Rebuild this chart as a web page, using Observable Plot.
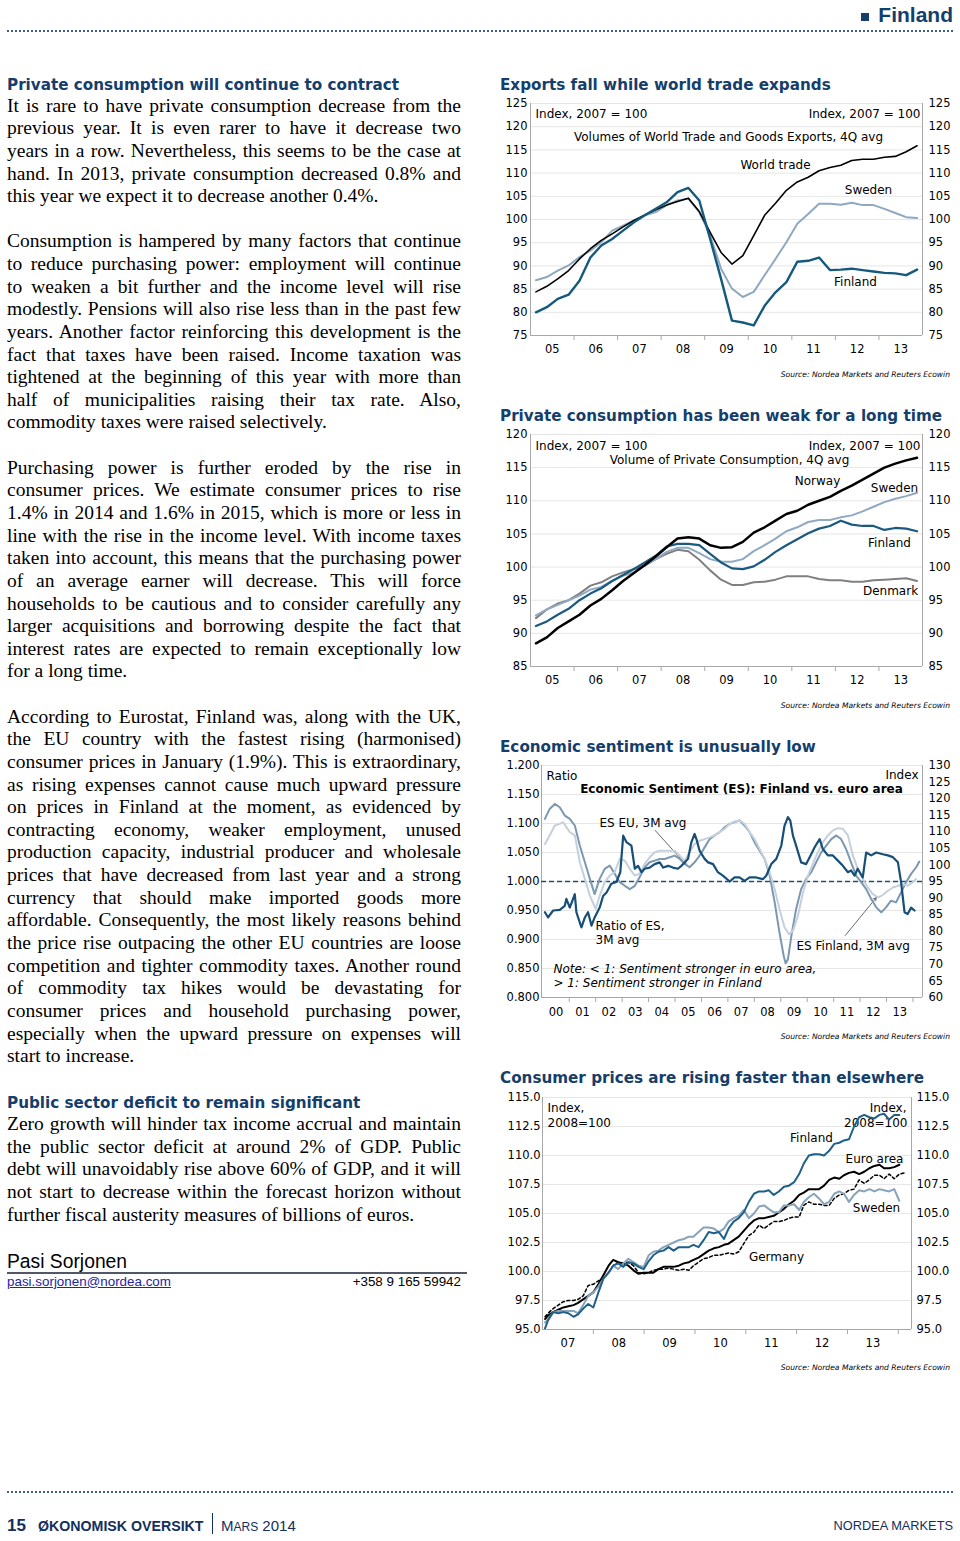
<!DOCTYPE html>
<html><head><meta charset="utf-8"><title>Finland</title>
<script src="https://cdn.jsdelivr.net/npm/d3@7"></script>
<script src="https://cdn.jsdelivr.net/npm/@observablehq/plot@0.6"></script>
<style>
html,body{margin:0;padding:0;background:#fff;}
#page{position:relative;width:960px;height:1541px;overflow:hidden;background:#fff;}
.abs{position:absolute;line-height:1;white-space:nowrap;margin:0;}
.chart{position:absolute;left:498px;}
.chart svg{overflow:visible;}
</style></head>
<body><div id="page"></div>
<script>
// ================= DATA =================
// Chart 1 & 2: quarterly, 2005Q1 - 2013Q4 (4Q avg)
const quarters = d3.range(36).map(i => 2005 + i / 4 + 0.125);
const exportsWorldTrade = [84.4,85.6,87.2,89.0,91.5,93.7,95.5,96.9,98.4,99.8,101.0,102.1,103.1,103.9,104.6,101.7,97.2,92.9,90.4,92.2,96.5,100.9,103.5,106.3,108.1,109.1,110.5,111.2,111.7,112.7,113.0,113.0,113.4,113.6,114.6,115.9];
const exportsSweden = [86.9,87.6,89.0,90.1,91.9,93.3,95.1,97.6,98.7,99.8,100.9,101.6,103.1,104.1,104.5,101.6,96.6,89.4,85.1,83.3,84.4,88.0,91.5,95.1,99.1,101.2,103.4,103.4,103.2,103.6,103.1,103.1,102.3,101.4,100.5,100.3];
const exportsFinland = [80.0,81.1,82.9,83.8,86.8,91.8,94.4,95.8,97.6,99.4,100.9,102.3,103.7,105.9,106.8,104.1,95.8,87.2,78.2,77.8,77.2,81.4,84.3,86.5,90.9,91.1,91.8,89.1,89.2,89.4,89.1,88.8,88.5,88.4,88.0,89.2];

const consNorway = [88.5,89.4,90.8,91.8,92.8,94.2,95.2,96.5,97.9,99.1,100.3,101.6,103.0,104.3,104.5,104.3,103.3,102.9,103.0,103.8,105.2,106.0,107.0,108.0,108.5,109.4,110.0,110.6,111.5,112.3,113.2,114.1,115.0,115.6,116.1,116.5];
const consSweden = [92.7,93.6,94.3,95.0,95.7,96.6,97.0,97.9,98.7,99.2,100.2,101.2,102.3,102.9,102.9,102.1,101.2,100.8,100.8,101.2,102.4,103.3,104.3,105.4,106.0,106.8,107.1,107.1,107.5,107.8,108.4,109.1,109.8,110.3,110.7,111.2];
const consFinland = [91.1,91.8,92.8,93.7,95.0,96.0,96.8,97.9,98.8,99.7,100.7,101.7,103.1,103.5,103.5,103.3,102.0,100.7,99.8,99.7,100.1,101.1,102.3,103.3,104.2,105.1,105.8,106.2,107.0,106.4,106.2,106.2,105.6,105.9,105.8,105.4];
const consDenmark = [92.3,93.6,94.5,95.0,96.0,97.2,97.7,98.6,99.2,99.7,100.2,101.2,102.0,102.6,102.4,101.1,99.5,98.1,97.3,97.3,97.7,97.8,98.1,98.6,98.6,98.6,98.2,98.0,98.0,97.8,97.8,98.0,98.1,98.2,98.3,97.9];

// Chart 3: [year, value]
const esRatio = [[2000.08,0.947],[2000.20,0.938],[2000.39,0.950],[2000.64,0.951],[2000.83,0.958],[2000.89,0.970],[2001.02,0.955],[2001.21,0.978],[2001.27,0.947],[2001.46,0.921],[2001.59,0.938],[2001.71,0.947],[2001.84,0.924],[2001.96,0.938],[2002.15,0.955],[2002.28,0.975],[2002.41,0.981],[2002.59,0.996],[2002.78,0.999],[2002.93,1.016],[2003.04,1.079],[2003.16,1.068],[2003.35,1.062],[2003.48,1.022],[2003.60,1.027],[2003.73,1.016],[2003.85,1.022],[2004.04,1.024],[2004.23,1.030],[2004.42,1.033],[2004.55,1.024],[2004.74,1.027],[2004.92,1.024],[2005.11,1.022],[2005.24,1.027],[2005.37,1.033],[2005.49,1.039],[2005.62,1.068],[2005.74,1.082],[2005.81,1.073],[2005.93,1.053],[2006.12,1.039],[2006.25,1.033],[2006.44,1.030],[2006.62,1.016],[2006.81,1.010],[2007.07,1.000],[2007.25,1.007],[2007.44,1.007],[2007.63,1.001],[2007.82,1.007],[2008.07,1.007],[2008.32,1.004],[2008.45,1.010],[2008.64,1.030],[2008.83,1.039],[2009.02,1.062],[2009.14,1.096],[2009.27,1.111],[2009.36,1.105],[2009.46,1.079],[2009.58,1.062],[2009.77,1.033],[2009.96,1.030],[2010.15,1.047],[2010.28,1.059],[2010.47,1.073],[2010.59,1.056],[2010.78,1.045],[2010.97,1.045],[2011.16,1.036],[2011.35,1.027],[2011.54,1.016],[2011.66,1.019],[2011.79,1.010],[2011.91,1.022],[2012.10,1.007],[2012.23,1.050],[2012.42,1.045],[2012.61,1.050],[2012.86,1.047],[2013.05,1.045],[2013.24,1.042],[2013.43,1.033],[2013.55,0.999],[2013.68,0.947],[2013.80,0.944],[2013.93,0.955],[2014.06,0.950]];
const esEU = [[2000.08,113.9],[2000.26,116.9],[2000.45,118.4],[2000.64,117.4],[2000.83,114.9],[2001.02,113.9],[2001.21,111.9],[2001.40,105.8],[2001.59,100.8],[2001.78,95.8],[2001.96,91.2],[2002.15,95.8],[2002.34,98.8],[2002.53,99.8],[2002.72,97.3],[2002.91,94.8],[2003.10,93.7],[2003.29,92.7],[2003.48,93.7],[2003.66,96.3],[2003.85,99.3],[2004.04,100.8],[2004.23,101.3],[2004.42,101.8],[2004.61,101.8],[2004.80,102.3],[2004.99,102.8],[2005.18,101.8],[2005.37,100.3],[2005.55,99.3],[2005.74,100.8],[2005.93,102.8],[2006.12,105.3],[2006.31,107.8],[2006.50,108.9],[2006.69,109.9],[2006.88,111.4],[2007.07,112.4],[2007.25,112.9],[2007.44,113.4],[2007.63,111.9],[2007.82,109.9],[2008.01,106.8],[2008.20,104.3],[2008.39,101.8],[2008.58,96.8],[2008.77,88.7],[2008.95,79.6],[2009.11,72.6],[2009.18,70.3],[2009.27,71.5],[2009.40,78.6],[2009.58,86.7],[2009.77,92.7],[2009.96,95.8],[2010.15,97.8],[2010.34,100.8],[2010.53,103.8],[2010.72,105.8],[2010.91,107.8],[2011.10,108.9],[2011.28,107.8],[2011.47,104.8],[2011.66,100.8],[2011.85,96.8],[2012.04,94.8],[2012.23,92.7],[2012.42,89.7],[2012.61,87.2],[2012.80,85.7],[2012.98,87.2],[2013.17,89.2],[2013.36,88.7],[2013.55,91.7],[2013.74,94.8],[2013.93,97.3],[2014.12,99.3],[2014.24,101.0]];
const esFinland = [[2000.08,106.3],[2000.26,108.9],[2000.45,111.9],[2000.64,112.4],[2000.77,112.9],[2000.89,111.4],[2001.02,109.9],[2001.21,108.9],[2001.40,100.8],[2001.59,95.8],[2001.78,90.7],[2002.00,86.7],[2002.15,90.7],[2002.34,94.8],[2002.53,96.8],[2002.72,97.8],[2002.91,101.8],[2003.10,101.3],[2003.29,98.8],[2003.48,96.8],[2003.66,97.3],[2003.85,100.3],[2004.04,102.3],[2004.23,103.8],[2004.42,104.3],[2004.61,104.3],[2004.80,104.3],[2004.99,104.3],[2005.18,102.8],[2005.37,101.3],[2005.55,103.8],[2005.74,106.3],[2005.93,107.3],[2006.12,107.8],[2006.31,108.3],[2006.50,108.9],[2006.69,109.9],[2006.88,110.9],[2007.07,112.4],[2007.25,113.1],[2007.44,113.4],[2007.63,112.4],[2007.82,109.9],[2008.01,107.8],[2008.20,104.8],[2008.39,101.8],[2008.58,97.8],[2008.77,92.7],[2008.95,86.7],[2009.14,81.2],[2009.31,79.1],[2009.46,80.1],[2009.65,84.7],[2009.84,91.7],[2010.03,96.8],[2010.21,100.3],[2010.40,103.8],[2010.59,106.8],[2010.78,108.9],[2010.97,110.4],[2011.16,111.1],[2011.35,110.9],[2011.54,108.9],[2011.73,102.8],[2011.91,98.8],[2012.10,95.8],[2012.29,93.2],[2012.48,91.2],[2012.68,90.2],[2012.86,90.9],[2013.05,92.2],[2013.24,93.2],[2013.43,93.7],[2013.62,94.2],[2013.80,93.7],[2013.99,94.8],[2014.12,95.8]];

// Chart 4: consumer prices, 2008=100
const cpiTime = [2007.05,2007.11,2007.21,2007.31,2007.41,2007.51,2007.61,2007.70,2007.80,2007.90,2008.00,2008.10,2008.20,2008.30,2008.39,2008.49,2008.59,2008.69,2008.79,2008.89,2008.99,2009.09,2009.18,2009.28,2009.38,2009.48,2009.58,2009.68,2009.78,2009.88,2009.97,2010.07,2010.17,2010.27,2010.37,2010.47,2010.57,2010.66,2010.76,2010.86,2010.96,2011.06,2011.16,2011.26,2011.36,2011.45,2011.55,2011.65,2011.75,2011.85,2011.95,2012.05,2012.14,2012.24,2012.34,2012.44,2012.54,2012.64,2012.74,2012.84,2012.93,2013.03,2013.13,2013.23,2013.33,2013.43,2013.53,2013.63,2013.72,2013.82,2013.92,2014.02,2014.12];
const cpiFinland = [95.1,95.8,96.5,96.4,96.5,96.4,96.1,96.3,96.8,97.2,96.9,98.2,99.4,99.9,100.5,100.7,100.4,100.8,100.7,100.4,100.2,100.9,101.4,101.7,101.8,102.1,101.8,102.1,102.1,102.1,102.3,102.1,102.7,103.4,103.3,103.4,102.8,103.7,104.3,104.6,105.1,106.0,106.7,106.9,106.9,107.0,106.6,106.9,107.3,107.4,107.7,108.4,109.3,110.0,110.1,110.1,110.0,110.4,111.0,111.1,111.3,111.4,112.5,113.3,113.5,113.3,113.2,113.5,113.6,113.1,113.5,113.5];
const cpiSweden = [95.6,95.9,96.5,96.6,96.6,96.6,96.6,96.4,97.1,97.9,98.2,98.7,99.4,99.9,100.5,100.2,100.7,101.1,100.8,100.5,100.4,101.4,101.7,101.8,102.1,102.3,102.5,102.7,102.8,103.0,103.0,103.4,103.8,103.8,103.7,103.4,103.7,104.3,104.6,104.8,105.3,104.6,105.0,105.6,105.7,105.4,105.1,105.1,105.7,105.7,105.8,105.3,106.0,106.4,106.7,106.3,105.8,106.0,106.7,106.9,106.7,106.0,106.6,107.0,106.9,107.1,106.9,107.1,107.0,106.9,107.1,106.1];
const cpiEuroArea = [95.9,96.2,96.5,96.7,96.9,97.0,97.1,97.3,97.6,97.9,98.2,98.9,99.7,100.5,101.0,100.8,100.7,100.5,100.1,99.8,99.9,99.9,99.9,100.2,100.4,100.4,100.4,100.5,100.7,100.8,101.0,101.2,101.5,101.8,102.0,102.1,102.3,102.4,102.7,103.0,103.5,104.0,104.4,104.6,104.6,104.7,104.8,105.1,105.4,105.8,106.1,106.6,106.8,107.1,107.1,107.1,107.4,107.9,108.1,108.0,108.3,108.5,108.6,108.4,108.6,108.9,109.1,109.2,108.9,108.9,109.0,109.2];
const cpiGermany = [96.1,96.4,96.8,97.1,97.4,97.5,97.5,97.6,97.9,98.8,98.9,99.2,99.4,99.9,100.5,100.8,100.7,100.8,100.5,99.9,99.8,99.9,100.1,100.2,100.2,100.3,100.2,100.1,100.2,100.1,100.5,100.8,101.1,101.2,101.4,101.4,101.5,101.6,101.5,101.7,102.4,103.1,103.4,104.0,103.7,104.0,104.3,104.3,104.4,104.6,104.7,104.7,105.7,106.0,105.8,105.8,105.7,105.7,106.3,106.6,106.7,107.0,107.1,107.9,107.6,107.9,108.3,108.3,108.0,108.4,108.0,108.4,108.5];

// Tick values
const ticks1 = [75,80,85,90,95,100,105,110,115,120,125];
const ticks2 = [85,90,95,100,105,110,115,120];
const ticks3L = [0.8,0.85,0.9,0.95,1.0,1.05,1.1,1.15,1.2];
const ticks3R = [60,65,70,75,80,85,90,95,100,105,110,115,120,125,130];
const ticks4 = [95,97.5,100,102.5,105,107.5,110,112.5,115];
const years12Bounds = [2006,2007,2008,2009,2010,2011,2012,2013];
const years12Mids = [2005.5,2006.5,2007.5,2008.5,2009.5,2010.5,2011.5,2012.5,2013.5];
const years3Bounds = [2001,2002,2003,2004,2005,2006,2007,2008,2009,2010,2011,2012,2013,2014];
const years3Mids = [2000.5,2001.5,2002.5,2003.5,2004.5,2005.5,2006.5,2007.5,2008.5,2009.5,2010.5,2011.5,2012.5,2013.5];
const years4Bounds = [2008,2009,2010,2011,2012,2013,2014];
const years4Mids = [2007.5,2008.5,2009.5,2010.5,2011.5,2012.5,2013.5];

// ================= PAGE TEXT =================
const page = document.getElementById("page");
const NAVY = "#153e6b";
const SERIF = '"Liberation Serif","Times New Roman",serif';
const DJ = '"DejaVu Sans",Verdana,sans-serif';
const LS = '"Liberation Sans",Arial,sans-serif';
const K = {serif: 0.8375, dj: 0.846, ls: 0.8465};

function put(html, o) {
  const d = document.createElement("div");
  d.className = "abs";
  d.innerHTML = html;
  d.style.fontSize = o.size + "px";
  d.style.fontFamily = o.fam;
  d.style.top = (o.base - o.k * o.size) + "px";
  if (o.right != null) d.style.right = (960 - o.right) + "px"; else d.style.left = o.x + "px";
  if (o.css) d.style.cssText += o.css;
  page.appendChild(d);
  return d;
}

// header
put('<span style="display:inline-block;width:8px;height:8px;background:' + NAVY + ';margin-right:9px;vertical-align:1px"></span>Finland',
  {right: 953, base: 22, size: 21, fam: LS, k: K.ls, css: "font-weight:bold;color:" + NAVY});
const dots = (y) => { const d = document.createElement("div"); d.style.cssText = "position:absolute;left:7px;width:946px;height:0;border-top:2px dotted #3d5f8c;top:" + y + "px"; page.appendChild(d); };
dots(30); dots(1491);

// headings
const headCss = "font-weight:bold;color:" + NAVY;
put("Private consumption will continue to contract", {x: 7, base: 91, size: 15.2, fam: DJ, k: K.dj, css: headCss});

const BASE0 = 112, LH = 22.63;
function para(lines, k0) {
  lines.forEach((ln, i) => {
    const d = put("<span>" + ln + "</span>", {x: 7, base: BASE0 + LH * (k0 + i), size: 19.5, fam: SERIF, k: K.serif, css: "color:#000"});
    if (i < lines.length - 1) {
      const w = d.firstChild.getBoundingClientRect().width;
      const n = (ln.match(/ /g) || []).length;
      if (n) d.style.wordSpacing = ((454 - w) / n) + "px";
    }
  });
}
para([
  "It is rare to have private consumption decrease from the",
  "previous year. It is even rarer to have it decrease two",
  "years in a row. Nevertheless, this seems to be the case at",
  "hand. In 2013, private consumption decreased 0.8% and",
  "this year we expect it to decrease another 0.4%."], 0);
para([
  "Consumption is hampered by many factors that continue",
  "to reduce purchasing power: employment will continue",
  "to weaken a bit further and the income level will rise",
  "modestly. Pensions will also rise less than in the past few",
  "years. Another factor reinforcing this development is the",
  "fact that taxes have been raised. Income taxation was",
  "tightened at the beginning of this year with more than",
  "half of municipalities raising their tax rate. Also,",
  "commodity taxes were raised selectively."], 6);
para([
  "Purchasing power is further eroded by the rise in",
  "consumer prices. We estimate consumer prices to rise",
  "1.4% in 2014 and 1.6% in 2015, which is more or less in",
  "line with the rise in the income level. With income taxes",
  "taken into account, this means that the purchasing power",
  "of an average earner will decrease. This will force",
  "households to be cautious and to consider carefully any",
  "larger acquisitions and borrowing despite the fact that",
  "interest rates are expected to remain exceptionally low",
  "for a long time."], 16);
para([
  "According to Eurostat, Finland was, along with the UK,",
  "the EU country with the fastest rising (harmonised)",
  "consumer prices in January (1.9%). This is extraordinary,",
  "as rising expenses cannot cause much upward pressure",
  "on prices in Finland at the moment, as evidenced by",
  "contracting economy, weaker employment, unused",
  "production capacity, industrial producer and wholesale",
  "prices that have decreased from last year and a strong",
  "currency that should make imported goods more",
  "affordable. Consequently, the most likely reasons behind",
  "the price rise outpacing the other EU countries are loose",
  "competition and tighter commodity taxes. Another round",
  "of commodity tax hikes would be devastating for",
  "consumer prices and household purchasing power,",
  "especially when the upward pressure on expenses will",
  "start to increase."], 27);
put("Public sector deficit to remain significant", {x: 7, base: BASE0 + LH * 44 + 1, size: 15.2, fam: DJ, k: K.dj, css: headCss});
para([
  "Zero growth will hinder tax income accrual and maintain",
  "the public sector deficit at around 2% of GDP. Public",
  "debt will unavoidably rise above 60% of GDP, and it will",
  "not start to decrease within the forecast horizon without",
  "further fiscal austerity measures of billions of euros."], 45);

// author
put("Pasi Sorjonen", {x: 7, base: 1268, size: 19.3, fam: LS, k: K.ls});
(() => { const d = document.createElement("div"); d.style.cssText = "position:absolute;left:7px;top:1272px;width:460px;height:0;border-top:2px solid #505a66"; page.appendChild(d); })();
put("pasi.sorjonen@nordea.com", {x: 7, base: 1286, size: 13.4, fam: LS, k: K.ls, css: "color:#2323a8;text-decoration:underline"});
put("+358 9 165 59942", {right: 461, base: 1286, size: 13.4, fam: LS, k: K.ls});

// footer
const FOOT = "#12305e";
put("15", {x: 7, base: 1531, size: 17, fam: LS, k: K.ls, css: "font-weight:bold;color:" + FOOT});
put("ØKONOMISK OVERSIKT", {x: 38, base: 1531, size: 14.2, fam: LS, k: K.ls, css: "font-weight:bold;color:" + FOOT});
(() => { const d = document.createElement("div"); d.style.cssText = "position:absolute;left:212px;top:1513px;width:0;height:21px;border-left:1px solid " + FOOT; page.appendChild(d); })();
put('M<span style="font-size:12px">ARS</span> 2014', {x: 221, base: 1531, size: 15, fam: LS, k: K.ls, css: "color:" + FOOT});
put("NORDEA MARKETS", {right: 953, base: 1531, size: 12.8, fam: LS, k: K.ls, css: "color:" + FOOT});

// ================= CHARTS =================
const AX = "#a8a8a8";
const yy = d => String(Math.floor(d) % 100).padStart(2, "0");

function chart(cfg) {
  const {title, titleBase, top, ml, mr, xDomain, yDomain, yTicks, yFmt, lPad, rTicks, rY, rFmt, rDx, bounds, mids, xPad, labels, lines, extra = [], srcBase} = cfg;
  put(title, {x: 500, base: titleBase, size: 15.2, fam: DJ, k: K.dj, css: headCss});
  const ox = 498 + ml, oy = top + 8;
  const labelMarks = labels.map(l => Plot.text([l], {
    frameAnchor: "top-left", lineAnchor: "middle", dx: l.px - ox, dy: l.py - oy, text: d => d.t,
    textAnchor: l.a || "start", fontSize: l.fs || 12, fontWeight: l.fw || "normal",
    fontStyle: l.it ? "italic" : "normal", fill: "#000"
  }));
  const svg = Plot.plot({
    width: 460, height: 270, marginLeft: ml, marginRight: mr, marginTop: 8, marginBottom: 30,
    style: {fontFamily: DJ, fontSize: "11.5px", color: "#000", background: "transparent", overflow: "visible"},
    x: {domain: xDomain, label: null},
    y: {domain: yDomain, label: null},
    marks: [
      Plot.gridY({ticks: yTicks, stroke: "#e6e6e6", strokeOpacity: 1}),
      Plot.ruleX([xDomain[0], xDomain[1]], {stroke: AX}),
      Plot.ruleY([yDomain[0]], {stroke: AX}),
      Plot.axisY({ticks: yTicks, anchor: "left", tickSize: 0, tickPadding: lPad, tickFormat: yFmt, label: null}),
      Plot.text(rTicks, {y: rY, text: rFmt, frameAnchor: "right", dx: rDx, textAnchor: "start"}),
      Plot.axisX({ticks: bounds, tickSize: 5, tickFormat: () => "", stroke: AX, label: null}),
      Plot.axisX({ticks: mids, tickSize: 0, tickPadding: xPad, tickFormat: yy, label: null}),
      ...extra,
      ...labelMarks,
      ...lines
    ]
  });
  const div = document.createElement("div");
  div.className = "chart";
  div.style.top = top + "px";
  div.appendChild(svg);
  page.appendChild(div);
  put("Source: Nordea Markets and Reuters Ecowin", {right: 950, base: srcBase, size: 7.6, fam: DJ, k: K.dj, css: "font-style:italic;color:#000"});
}

const q = arr => quarters.map((t, i) => ({t, v: arr[i]}));
const ln = (data, stroke, w, extra = {}) => Plot.line(data, {x: "t", y: "v", stroke, strokeWidth: w, strokeLinejoin: "round", ...extra});

// Chart 1
chart({
  title: "Exports fall while world trade expands", titleBase: 91, srcBase: 377,
  top: 95, ml: 32, mr: 36, xDomain: [2005, 2014], yDomain: [75, 125],
  yTicks: ticks1, yFmt: d => String(d), lPad: 3,
  rTicks: ticks1, rY: d => d, rFmt: d => String(d), rDx: 6,
  bounds: years12Bounds, mids: years12Mids, xPad: 9,
  labels: [
    {t: "Index, 2007 = 100", px: 535, py: 114},
    {t: "Index, 2007 = 100", px: 920, py: 114, a: "end"},
    {t: "Volumes of World Trade and Goods Exports, 4Q avg", px: 728, py: 137, a: "middle"},
    {t: "World trade", px: 775, py: 165, a: "middle"},
    {t: "Sweden", px: 868, py: 190, a: "middle"},
    {t: "Finland", px: 855, py: 282, a: "middle"}
  ],
  lines: [
    ln(q(exportsSweden), "#8ea8c0", 2),
    ln(q(exportsWorldTrade), "#000", 1.6),
    ln(q(exportsFinland), "#155a7d", 2.4)
  ]
});

// Chart 2
chart({
  title: "Private consumption has been weak for a long time", titleBase: 422, srcBase: 708,
  top: 426, ml: 32, mr: 36, xDomain: [2005, 2014], yDomain: [85, 120],
  yTicks: ticks2, yFmt: d => String(d), lPad: 3,
  rTicks: ticks2, rY: d => d, rFmt: d => String(d), rDx: 6,
  bounds: years12Bounds, mids: years12Mids, xPad: 9,
  labels: [
    {t: "Index, 2007 = 100", px: 535, py: 446},
    {t: "Index, 2007 = 100", px: 920, py: 446, a: "end"},
    {t: "Volume of Private Consumption, 4Q avg", px: 729, py: 460, a: "middle"},
    {t: "Norway", px: 817, py: 481, a: "middle"},
    {t: "Sweden", px: 894, py: 488, a: "middle"},
    {t: "Finland", px: 889, py: 543, a: "middle"},
    {t: "Denmark", px: 890, py: 591, a: "middle"}
  ],
  lines: [
    ln(q(consDenmark), "#808080", 2),
    ln(q(consSweden), "#8fa9c3", 2),
    ln(q(consFinland), "#1a5a80", 2.2),
    ln(q(consNorway), "#000", 2.5)
  ]
});

// Chart 3
const idx2ratio = v => 0.8 + (v - 60) / 70 * 0.4;
chart({
  title: "Economic sentiment is unusually low", titleBase: 753, srcBase: 1039,
  top: 757, ml: 43, mr: 36, xDomain: [1999.95, 2014.36], yDomain: [0.8, 1.2],
  yTicks: ticks3L, yFmt: d3.format(".3f"), lPad: 2,
  rTicks: ticks3R, rY: idx2ratio, rFmt: d => String(d), rDx: 6,
  bounds: years3Bounds, mids: years3Mids, xPad: 10,
  extra: [
    Plot.ruleY([1], {stroke: "#1d4f77", strokeWidth: 1.5, strokeDasharray: "5,3"}),
    Plot.arrow([{x1: 2004.25, y1: 1.088, x2: 2005.42, y2: 1.029}], {x1: "x1", y1: "y1", x2: "x2", y2: "y2", stroke: "#444", strokeWidth: 0.8, headLength: 6}),
    Plot.arrow([{x1: 2011.44, y1: 0.907, x2: 2012.61, y2: 0.972}], {x1: "x1", y1: "y1", x2: "x2", y2: "y2", stroke: "#444", strokeWidth: 0.8, headLength: 6})
  ],
  labels: [
    {t: "Ratio", px: 546, py: 776},
    {t: "Index", px: 918, py: 775, a: "end"},
    {t: "Economic Sentiment (ES): Finland vs. euro area", px: 741, py: 788.5, a: "middle", fw: "bold"},
    {t: "ES EU, 3M avg", px: 599, py: 823},
    {t: "Ratio of ES,", px: 595, py: 926},
    {t: "3M avg", px: 595, py: 940},
    {t: "ES Finland, 3M avg", px: 796, py: 946},
    {t: "Note: < 1: Sentiment stronger in euro area,", px: 553, py: 969, it: true},
    {t: "> 1: Sentiment stronger in Finland", px: 553, py: 983, it: true}
  ],
  lines: [
    Plot.line(esEU, {x: d => d[0], y: d => idx2ratio(d[1]), stroke: "#7c98b1", strokeWidth: 2, strokeLinejoin: "round"}),
    Plot.line(esFinland, {x: d => d[0], y: d => idx2ratio(d[1]), stroke: "#c5d0dc", strokeWidth: 2, strokeLinejoin: "round"}),
    Plot.line(esRatio, {x: d => d[0], y: d => d[1], stroke: "#174f78", strokeWidth: 2.2, strokeLinejoin: "round"})
  ]
});

// Chart 4
const c4 = arr => arr.map((v, i) => ({t: cpiTime[i], v}));
const f1 = d3.format(".1f");
chart({
  title: "Consumer prices are rising faster than elsewhere", titleBase: 1084, srcBase: 1370,
  top: 1089, ml: 44, mr: 47, xDomain: [2007, 2014.26], yDomain: [95, 115],
  yTicks: ticks4, yFmt: f1, lPad: 2,
  rTicks: ticks4, rY: d => d, rFmt: f1, rDx: 5,
  bounds: years4Bounds, mids: years4Mids, xPad: 9,
  labels: [
    {t: "Index,", px: 547, py: 1108},
    {t: "2008=100", px: 547, py: 1123},
    {t: "Index,", px: 906, py: 1108, a: "end"},
    {t: "2008=100", px: 907, py: 1123, a: "end"},
    {t: "Finland", px: 811, py: 1138, a: "middle"},
    {t: "Euro area", px: 874, py: 1159, a: "middle"},
    {t: "Sweden", px: 876, py: 1208, a: "middle"},
    {t: "Germany", px: 776, py: 1257, a: "middle"}
  ],
  lines: [
    ln(c4(cpiGermany), "#000", 1.5, {strokeDasharray: "3,2.5"}),
    ln(c4(cpiEuroArea), "#000", 2),
    ln(c4(cpiSweden), "#88a2ba", 2),
    ln(c4(cpiFinland), "#1e6088", 2)
  ]
});
</script>
</body></html>
